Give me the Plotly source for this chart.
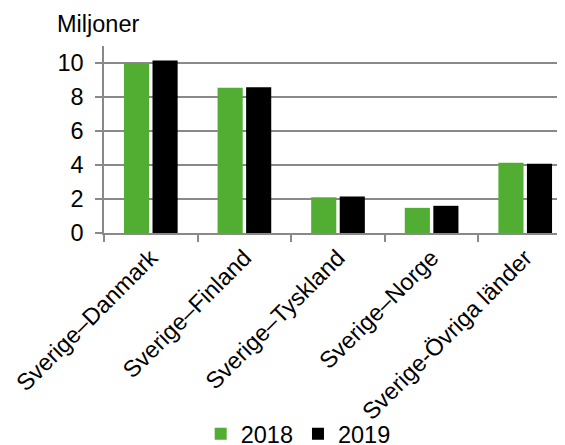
import plotly.graph_objects as go

categories = ["Sverige–Danmark", "Sverige–Finland", "Sverige–Tyskland", "Sverige–Norge", "Sverige-Övriga länder"]
values_2018 = [10.0, 8.55, 2.1, 1.48, 4.13]
values_2019 = [10.15, 8.57, 2.15, 1.6, 4.07]
y_ticks = [0, 2, 4, 6, 8, 10]

GREEN = "#52AE32"
FONT = "Liberation Sans, Arial, sans-serif"
FS = 23.5

fig = go.Figure()
fig.add_trace(go.Bar(name="2018", x=categories, y=values_2018, marker_color=GREEN, marker_line_width=0))
fig.add_trace(go.Bar(name="2019", x=categories, y=values_2019, marker_color="#000000", marker_line_width=0))

# page body has an 8px margin, so the figure is 8px smaller than the window
fig.update_layout(
    width=557, height=437,
    margin=dict(l=96, r=0, t=38, b=212),
    paper_bgcolor="white", plot_bgcolor="white",
    font=dict(family=FONT, size=FS, color="#000000"),
    barmode="group", bargap=0.39, bargroupgap=0.12,
    showlegend=True,
    legend=dict(orientation="h", xref="container", yref="container", x=0.521, y=0.025,
                xanchor="center", yanchor="middle", font=dict(size=FS),
                bgcolor="rgba(0,0,0,0)", itemwidth=30, tracegroupgap=0),
    annotations=[dict(text="Miljoner", xref="paper", yref="paper", x=-0.013, y=1.12,
                      xanchor="center", yanchor="middle", showarrow=False, font=dict(size=FS))],
)
fig.update_xaxes(
    type="category", range=[-0.5, 4.425], tickangle=-45, automargin=False,
    showline=True, linecolor="#898989", linewidth=1.5,
    ticks="outside", ticklen=7, tickcolor="#898989", tickwidth=1.5,
    tickson="boundaries", showgrid=False, tickfont=dict(size=FS),
)
fig.update_yaxes(
    range=[0, 11], tickvals=y_ticks, automargin=False,
    showline=True, linecolor="#898989", linewidth=1.5,
    ticks="outside", ticklen=7, tickcolor="#898989", tickwidth=1.5,
    showgrid=True, gridcolor="#898989", gridwidth=1.5, zeroline=False,
    tickfont=dict(size=FS), ticklabelstandoff=7,
)
fig.write_html("out.html")
